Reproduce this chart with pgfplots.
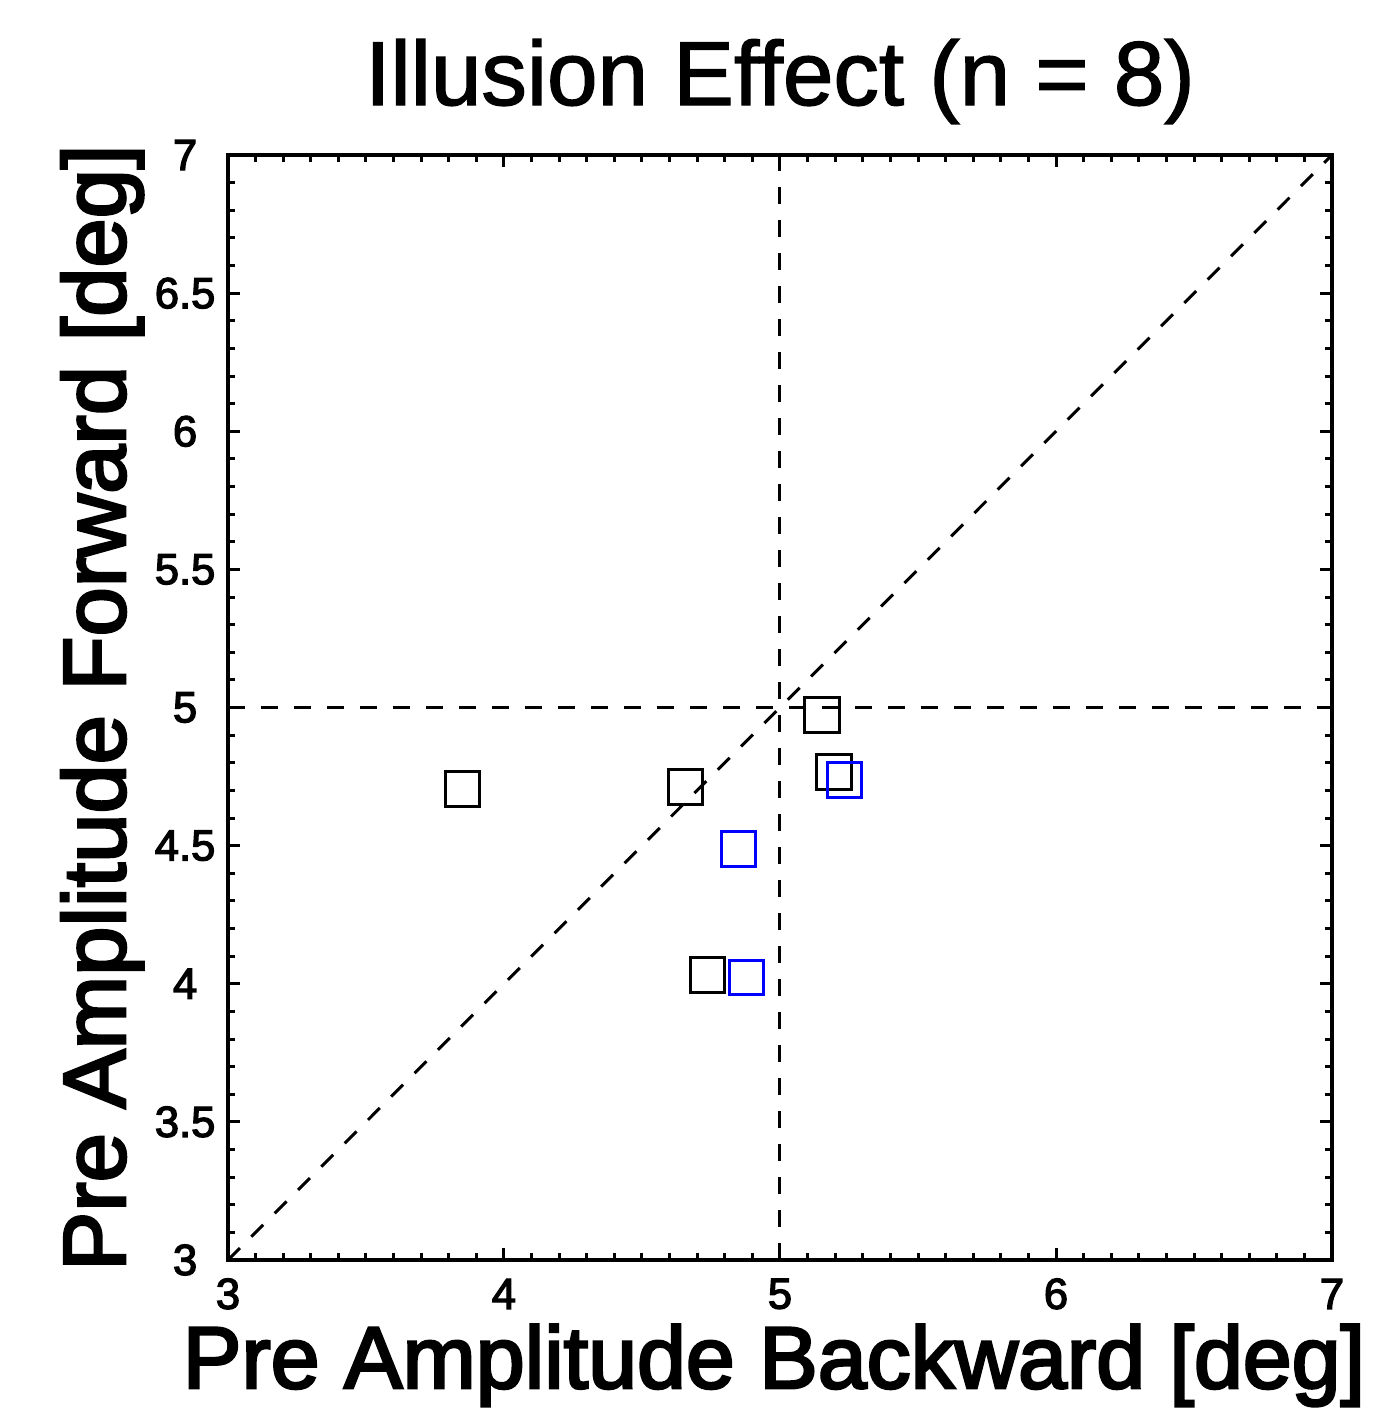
\documentclass[border=0pt]{standalone}
\usepackage{pgfplots}
\pgfplotsset{compat=1.18}
\usepackage{fontspec}
\setmainfont{Liberation Sans}
\newfontfamily\thk{Liberation Sans}[FakeBold=3]
\newfontfamily\ttl{Liberation Sans}[FakeBold=1.5]

\begin{document}
\begin{tikzpicture}
\begin{axis}[
  scale only axis, width=368pt, height=368.3pt,
  xmin=3, xmax=7, ymin=3, ymax=7,
  xtick={3,4,5,6,7}, xticklabels={3,4,5,6,7},
  ytick={3,3.5,4,4.5,5,5.5,6,6.5,7}, yticklabels={3,3.5,4,4.5,5,5.5,6,6.5,7},
  minor x tick num=9, minor y tick num=4,
  major tick length=4pt, minor tick length=2.2pt,
  every tick/.style={black, line width=1pt},
  axis line style={line width=1.1pt},
  tick label style={font=\thk\fontsize{14.5}{17}\selectfont},
  xticklabel style={anchor=center, yshift=-11.3pt},
  yticklabel style={anchor=center, xshift=-14.3pt},
  title={Illusion Effect (n = 8)},
  title style={font=\ttl\fontsize{30.3}{36}\selectfont, at={(axis description cs:0.5,1.029)}, anchor=base, yshift=0pt},
  xlabel={Pre Amplitude Backward [deg]},
  xlabel style={font=\thk\fontsize{29.3}{35}\selectfont, at={(axis description cs:0.4946,-0.116)}, anchor=base},
  ylabel={Pre Amplitude Forward [deg]},
  ylabel style={font=\thk\fontsize{29.5}{35}\selectfont, at={(axis description cs:-0.0932,0.5)}, anchor=base},
  clip=false,
]
\coordinate (ll) at (rel axis cs:0,0);
\addplot[black, line width=1pt, dash pattern=on 5.6pt off 5.4pt] coordinates {(5,3) (5,7)};
\addplot[black, line width=1pt, dash pattern=on 5.6pt off 5.4pt] coordinates {(3,5) (7,5)};
\addplot[black, line width=1pt, dash pattern=on 5.6pt off 5.4pt] coordinates {(3,3) (7,7)};
\addplot[only marks, mark=square, mark size=5.7pt, mark options={black, line width=1pt}] coordinates {
(3.851,4.705) (4.659,4.712) (5.152,4.973) (5.196,4.767) (4.737,4.032)
};
\addplot[only marks, mark=square, mark size=5.7pt, mark options={blue, line width=1pt}] coordinates {
(5.234,4.738) (4.850,4.488) (4.879,4.024)
};
\end{axis}
\pgfresetboundingbox
\path[use as bounding box] (ll) ++(-76pt,-50.67pt) rectangle ++(458.67pt,470.67pt);
\end{tikzpicture}
\end{document}
